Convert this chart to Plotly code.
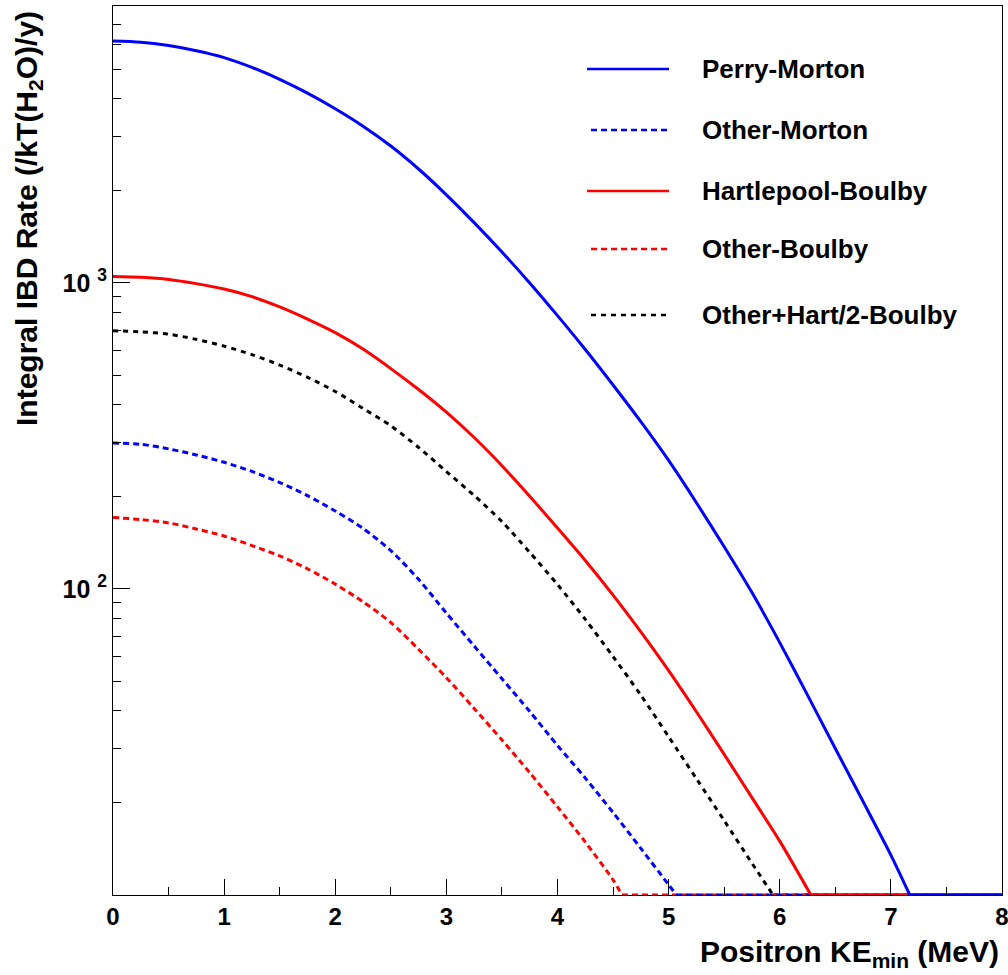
import plotly.graph_objects as go

# ---------------- data ----------------
series_names = ["Perry-Morton", "Other-Morton", "Hartlepool-Boulby",
                "Other-Boulby", "Other+Hart/2-Boulby"]

ke_perry_morton = [0, 0.25, 0.5, 0.75, 1.0, 1.25, 1.5, 1.75, 2.0, 2.25, 2.5, 2.75,
                   3.0, 3.25, 3.5, 3.75, 4.0, 4.25, 4.5, 4.75, 5.0, 5.25, 5.5, 5.75,
                   6.0, 6.25, 6.5, 6.75, 7.0, 7.17, 8.0]
rate_perry_morton = [6178, 6122, 5969, 5740, 5450, 5063, 4628, 4173, 3710, 3254, 2802, 2357,
                     1941, 1574, 1262, 1000, 782, 606, 464, 352, 263, 191.4, 137.4, 97.3,
                     66.8, 45.0, 30.1, 20.2, 13.5, 10, 10]

ke_other_morton = [0, 0.25, 0.5, 0.75, 1.0, 1.25, 1.5, 1.75, 2.0, 2.25, 2.5, 2.75,
                   3.0, 3.25, 3.5, 3.75, 4.0, 4.25, 4.5, 4.75, 5.0, 5.07, 8.0]
rate_other_morton = [300, 297, 287, 274.1, 259.4, 242.1, 222.8, 201.8, 179.8, 157.7, 133.4, 107.5,
                     83.4, 65.1, 50.9, 39.8, 30.8, 24.1, 18.6, 14.2, 10.8, 10, 10]

ke_hart_boulby = [0, 0.25, 0.5, 0.75, 1.0, 1.25, 1.5, 1.75, 2.0, 2.25, 2.5, 2.75,
                  3.0, 3.25, 3.5, 3.75, 4.0, 4.25, 4.5, 4.75, 5.0, 5.25, 5.5, 5.75,
                  6.0, 6.28, 8.0]
rate_hart_boulby = [1049, 1043, 1027, 995, 955, 902, 835, 762, 688, 608, 525, 448.7,
                    378.4, 312.6, 252.9, 200.9, 158.1, 123.9, 95.5, 72.4, 54.1, 39.7, 28.8, 20.8,
                    15.0, 10, 10]

ke_other_boulby = [0, 0.25, 0.5, 0.75, 1.0, 1.25, 1.5, 1.75, 2.0, 2.25, 2.5, 2.75,
                   3.0, 3.25, 3.5, 3.75, 4.0, 4.25, 4.5, 4.58, 8.0]
rate_other_boulby = [171.3, 168.6, 164.4, 157, 149, 138.6, 128.2, 116.4, 103.7, 90.8, 77.7, 63.5,
                     51.3, 40.7, 32.1, 25.1, 19.4, 14.9, 11.2, 10, 10]

ke_otherhart_boulby = [0, 0.25, 0.5, 0.75, 1.0, 1.25, 1.5, 1.75, 2.0, 2.25, 2.5, 2.75,
                       3.0, 3.25, 3.5, 3.75, 4.0, 4.25, 4.5, 4.75, 5.0, 5.25, 5.5, 5.75,
                       5.94, 8.0]
rate_otherhart_boulby = [698, 692, 680, 654, 621.8, 583.2, 539.1, 491.6, 442, 389, 341.5, 290,
                         242, 202, 166, 131.7, 103.4, 79.6, 60.1, 45.0, 32.9, 24.0, 17.5, 12.7,
                         10, 10]

y_tick_values = [100, 1000]
y_tick_labels = ["10\u00a0<sup>2</sup>", "10\u00a0<sup>3</sup>"]
x_title = "Positron KE<sub>min</sub> (MeV)"
y_title = "Integral IBD Rate (/kT(H<sub>2</sub>O)/y)"

# ---------------- styling ----------------
FONT = "Liberation Sans, Arial, Helvetica, sans-serif"
styles = [
    dict(color="#0000ff", dash="solid", width=3),
    dict(color="#0000ff", dash="6px,4px", width=3),
    dict(color="#ff0000", dash="solid", width=3),
    dict(color="#ff0000", dash="6px,4px", width=3),
    dict(color="#000000", dash="5px,5px", width=3),
]
xs = [ke_perry_morton, ke_other_morton, ke_hart_boulby, ke_other_boulby, ke_otherhart_boulby]
ys = [rate_perry_morton, rate_other_morton, rate_hart_boulby, rate_other_boulby, rate_otherhart_boulby]

fig = go.Figure()
# floor segments (curve clamped at axis minimum after the cut-off)
for i in [4, 3, 1, 2, 0]:
    fig.add_trace(go.Scatter(x=xs[i][-2:], y=ys[i][-2:], mode="lines", name=series_names[i],
                             line=styles[i], showlegend=False, hoverinfo="skip"))
# smooth falling parts
for i in [4, 3, 1, 2, 0]:
    fig.add_trace(go.Scatter(x=xs[i][:-1], y=ys[i][:-1], mode="lines", name=series_names[i],
                             line=dict(styles[i], shape="spline", smoothing=0.8),
                             showlegend=False, hoverinfo="x+y+name"))

minor_y = [m * 10 ** e for e in (1, 2, 3) for m in range(2, 10) if m * 10 ** e < 8100]

W, H = 1008, 975
ML, MR, MT, MB = 113, 6, 6, 80
PW, PH = W - ML - MR, H - MT - MB


def px(xp):
    return (xp - ML) / PW


def py(yp):
    return (H - MB - yp) / PH


fig.update_layout(
    width=W, height=H,
    margin=dict(l=ML, r=MR, t=MT, b=MB, pad=0, autoexpand=False),
    paper_bgcolor="white", plot_bgcolor="white",
    font=dict(family=FONT, color="black", size=24, weight="bold"),
    showlegend=False,
    xaxis=dict(range=[0, 8], showline=True, linecolor="black", linewidth=1, mirror=True,
               ticks="inside", ticklen=16, tickwidth=1, tickcolor="black",
               tick0=0, dtick=1, showgrid=False, zeroline=False, automargin=False,
               ticklabeloverflow="allow",
               tickfont=dict(family=FONT, size=24, weight="bold"),
               minor=dict(ticks="inside", ticklen=8, tickwidth=1, tickcolor="black",
                          dtick=0.5, showgrid=False)),
    yaxis=dict(type="log", range=[1.0, 3.905], showline=True, linecolor="black", linewidth=1,
               mirror=True, ticks="inside", ticklen=17, tickwidth=1, tickcolor="black",
               tickmode="array", tickvals=y_tick_values, ticktext=y_tick_labels,
               showgrid=False, zeroline=False, automargin=False, ticklabeloverflow="allow",
               tickfont=dict(family=FONT, size=25, weight="bold"),
               minor=dict(ticks="inside", ticklen=8, tickwidth=1, tickcolor="black",
                          tickmode="array", tickvals=minor_y, showgrid=False)),
)

annotations = [
    dict(text=x_title, xref="paper", yref="paper", x=px(1001), y=py(953),
         xanchor="right", yanchor="middle", showarrow=False,
         font=dict(family=FONT, size=30, weight="bold")),
    dict(text=y_title, xref="paper", yref="paper", x=px(28), y=py(219),
         xanchor="center", yanchor="middle", textangle=-90, showarrow=False,
         font=dict(family=FONT, size=30, weight="bold")),
]

# legend (no frame), drawn by hand to match the reference layout
legend_rows_y = [69, 130, 191, 249, 315]
legend_line_x0 = [587, 591, 587, 591, 591]
shapes = []
for i, name in enumerate(series_names):
    yy = py(legend_rows_y[i])
    shapes.append(dict(type="line", xref="paper", yref="paper",
                       x0=px(legend_line_x0[i]), x1=px(669), y0=yy, y1=yy,
                       line=dict(color=styles[i]["color"], dash=styles[i]["dash"],
                                 width=2.5)))
    annotations.append(dict(text=name, xref="paper", yref="paper", x=px(700), y=yy,
                            xanchor="left", yanchor="middle", showarrow=False,
                            font=dict(family=FONT, size=26, weight="bold")))

fig.update_layout(annotations=annotations, shapes=shapes)
fig.write_html("out.html")
